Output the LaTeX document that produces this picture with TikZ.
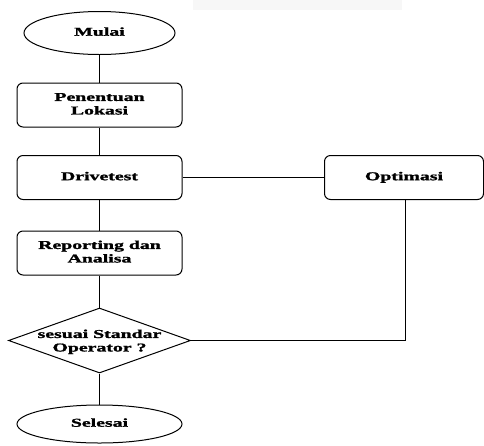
\documentclass[tikz,border=0pt]{standalone}
\usepackage{fontspec}
\setmainfont{Liberation Serif}[BoldFeatures={FakeBold=1.2}]
\usetikzlibrary{shapes.geometric}
\newcommand\wtxt[1]{\scalebox{1.65}[1]{\begin{tabular}{@{}c@{}}#1\end{tabular}}}
\begin{document}
\begin{tikzpicture}[x=1pt,y=-1pt,
  every node/.style={font=\fontsize{12}{13.5}\selectfont\bfseries, align=center},
  term/.style={ellipse, draw, line width=1pt, inner sep=0pt},
  proc/.style={rectangle, draw, rounded corners=6pt, line width=1pt, minimum width=165pt, minimum height=44pt, inner sep=0pt},
  dec/.style={diamond, draw, line width=1pt, minimum width=182pt, minimum height=65pt, inner sep=0pt},
  conn/.style={line width=0.8pt}]
\useasboundingbox (0,0) rectangle (484,445);
\fill[gray!6] (193,0) rectangle (402,10);
\node[term, minimum width=151pt, minimum height=43pt] (mulai) at (99.5,33) {};
\node at (mulai) {\wtxt{Mulai}};
\node[proc] (lokasi) at (99.5,105) {};
\node at (lokasi) {\wtxt{Penentuan\\Lokasi}};
\node[proc] (drive) at (99.5,177.5) {};
\node at (drive) {\wtxt{Drivetest}};
\node[proc] (report) at (99.5,253) {};
\node at (report) {\wtxt{Reporting dan\\Analisa}};
\node[dec] (decide) at (99.5,340.5) {};
\node (dectext) at (99.5,342) {\wtxt{sesuai Standar\\Operator ?}};
\node[term, minimum width=165pt, minimum height=38pt] (selesai) at (99.5,424) {};
\node at (selesai) {\wtxt{Selesai}};
\node[proc, minimum width=159pt] (opt) at (404,177.5) {};
\node at (opt) {\wtxt{Optimasi}};
\draw[conn] (mulai) -- (lokasi);
\draw[conn] (lokasi) -- (drive);
\draw[conn] (drive) -- (report);
\draw[conn] (report) -- (decide);
\draw[conn] (decide) -- (selesai);
\draw[conn] (drive) -- (opt);
\draw[conn] (opt.south -| 405.5,0) |- (decide.east);
\end{tikzpicture}
\end{document}
